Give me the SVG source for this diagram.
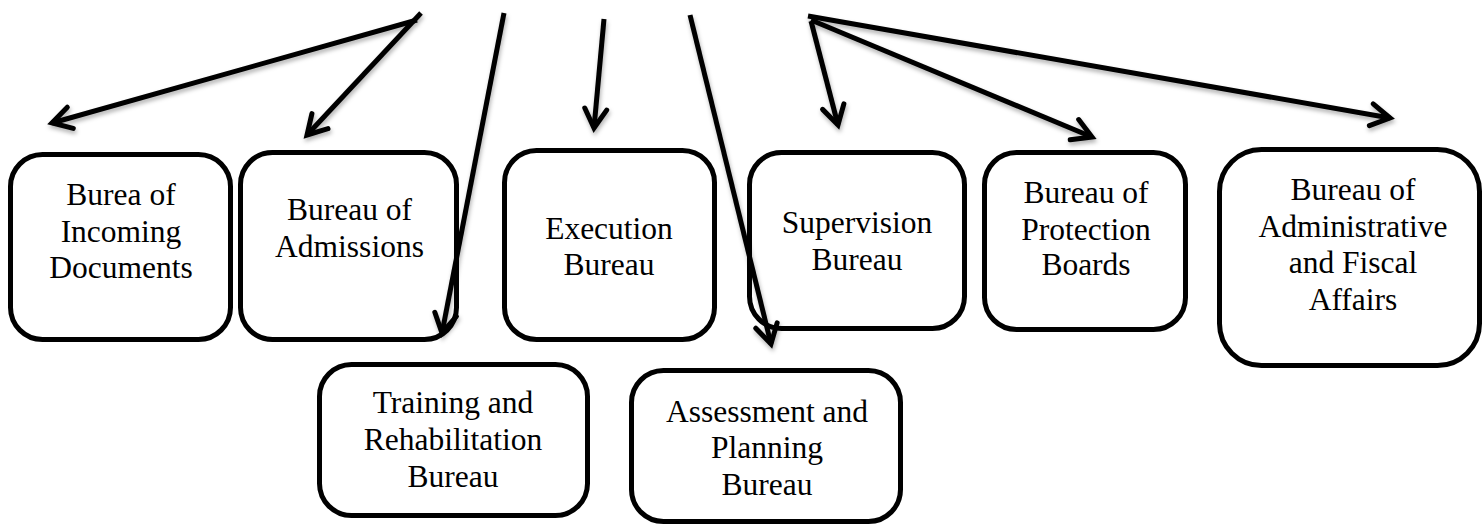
<svg xmlns="http://www.w3.org/2000/svg" width="1484" height="526" viewBox="0 0 1484 526">
  <style>
    .box { fill: #ffffff; stroke: #000000; stroke-width: 5; }
    .lbl { font-family: "Liberation Serif", "Times New Roman", serif; font-size: 31.5px; fill: #000000; text-anchor: middle; }
    .conn { fill: none; stroke: #000000; stroke-width: 5; stroke-linecap: butt; }
  </style>
  <defs>
    <marker id="arrow" markerUnits="userSpaceOnUse" markerWidth="40" markerHeight="40" viewBox="-25 -20 30 40" refX="0" refY="0" orient="auto" overflow="visible">
      <path d="M -19,-11 L 0,0 L -19,11" fill="none" stroke="#000000" stroke-width="5" stroke-linejoin="miter" stroke-linecap="round"/>
    </marker>
    <filter id="shadow" x="-10%" y="-10%" width="120%" height="130%">
      <feDropShadow dx="1" dy="3" stdDeviation="2" flood-color="#000000" flood-opacity="0.3"/>
    </filter>
  </defs>

  <g id="node-incoming">
    <rect class="box" x="10.5" y="154.5" width="220" height="185" rx="32" ry="32"/>
    <text class="lbl" x="121" y="205">Burea of</text>
    <text class="lbl" x="121" y="241.7">Incoming</text>
    <text class="lbl" x="121" y="278.3">Documents</text>
  </g>
  <g id="node-admissions">
    <rect class="box" x="240.5" y="152.5" width="216" height="187" rx="32" ry="32"/>
    <text class="lbl" x="349.5" y="220">Bureau of</text>
    <text class="lbl" x="349.5" y="256.7">Admissions</text>
  </g>
  <g id="node-execution">
    <rect class="box" x="504.5" y="150.5" width="210" height="189" rx="32" ry="32"/>
    <text class="lbl" x="609" y="239">Execution</text>
    <text class="lbl" x="609" y="275">Bureau</text>
  </g>
  <g id="node-supervision">
    <rect class="box" x="749.5" y="152.5" width="215" height="176" rx="32" ry="32"/>
    <text class="lbl" x="857" y="233">Supervision</text>
    <text class="lbl" x="857" y="270">Bureau</text>
  </g>
  <g id="node-protection">
    <rect class="box" x="984.5" y="152.5" width="201" height="177" rx="32" ry="32"/>
    <text class="lbl" x="1086" y="203.3">Bureau of</text>
    <text class="lbl" x="1086" y="240">Protection</text>
    <text class="lbl" x="1086" y="275">Boards</text>
  </g>
  <g id="node-administrative">
    <rect class="box" x="1219.5" y="149.5" width="260" height="216" rx="42" ry="42"/>
    <text class="lbl" x="1353" y="200">Bureau of</text>
    <text class="lbl" x="1353" y="236.7">Administrative</text>
    <text class="lbl" x="1353" y="273.3">and Fiscal</text>
    <text class="lbl" x="1353" y="310">Affairs</text>
  </g>
  <g id="node-training">
    <rect class="box" x="319.5" y="364.5" width="268" height="151" rx="32" ry="32"/>
    <text class="lbl" x="453" y="413.3">Training and</text>
    <text class="lbl" x="453" y="450">Rehabilitation</text>
    <text class="lbl" x="453" y="486.7">Bureau</text>
  </g>
  <g id="node-assessment">
    <rect class="box" x="631.5" y="370.5" width="269" height="151" rx="32" ry="32"/>
    <text class="lbl" x="767" y="421.7">Assessment and</text>
    <text class="lbl" x="767" y="458.3">Planning</text>
    <text class="lbl" x="767" y="495">Bureau</text>
  </g>

  <g id="connectors" filter="url(#shadow)">
    <line class="conn" x1="417" y1="20" x2="52" y2="123" marker-end="url(#arrow)"/>
    <line class="conn" x1="421" y1="13" x2="307" y2="135" marker-end="url(#arrow)"/>
    <line class="conn" x1="504" y1="13" x2="442" y2="333" marker-end="url(#arrow)"/>
    <line class="conn" x1="604" y1="19" x2="594" y2="128" marker-end="url(#arrow)"/>
    <line class="conn" x1="690" y1="15" x2="771" y2="344" marker-end="url(#arrow)"/>
    <line class="conn" x1="811" y1="21" x2="838" y2="125" marker-end="url(#arrow)"/>
    <line class="conn" x1="811" y1="20" x2="1092" y2="137" marker-end="url(#arrow)"/>
    <line class="conn" x1="808" y1="16" x2="1390" y2="118" marker-end="url(#arrow)"/>
  </g>
</svg>
